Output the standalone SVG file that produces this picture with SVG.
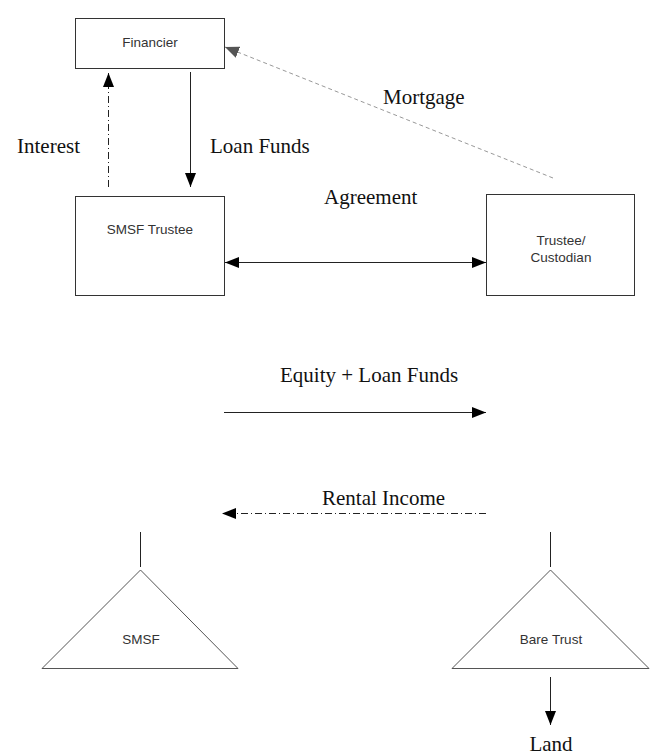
<svg xmlns="http://www.w3.org/2000/svg" width="650" height="756" viewBox="0 0 650 756">
  <style>
    .box { fill: #ffffff; stroke: #333333; stroke-width: 1; }
    .tri { fill: #ffffff; stroke: #555555; stroke-width: 1; }
    .node-label { font-family: "Liberation Sans", Arial, sans-serif; font-size: 13.5px; fill: #333333; text-anchor: middle; }
    .edge-label { font-family: "Liberation Serif", "Times New Roman", serif; font-size: 21px; fill: #111111; }
    .solid { stroke: #222222; stroke-width: 1; fill: none; }
    .dashdot { stroke: #222222; stroke-width: 1; fill: none; stroke-dasharray: 7 3 1 3; }
    .dashed { stroke: #999999; stroke-width: 1; fill: none; stroke-dasharray: 4 3; }
  </style>
  <defs>
    <marker id="arrow" viewBox="0 0 14 11" refX="14" refY="5.5" markerWidth="14" markerHeight="11" markerUnits="userSpaceOnUse" orient="auto">
      <path d="M0,0 L14,5.5 L0,11 Z" fill="#000000"/>
    </marker>
    <marker id="arrow-start" viewBox="0 0 14 11" refX="0" refY="5.5" markerWidth="14" markerHeight="11" markerUnits="userSpaceOnUse" orient="auto">
      <path d="M14,0 L0,5.5 L14,11 Z" fill="#000000"/>
    </marker>
    <marker id="arrow-gray" viewBox="0 0 14 12" refX="14" refY="6" markerWidth="14" markerHeight="12" markerUnits="userSpaceOnUse" orient="auto">
      <path d="M0,0 L14,6 L0,12 Z" fill="#555555"/>
    </marker>
  </defs>

  <rect width="650" height="756" fill="#ffffff"/>

  <g id="financier">
    <rect class="box" x="75.5" y="18.5" width="149" height="50"/>
    <text class="node-label" x="150" y="47">Financier</text>
  </g>

  <g id="smsf-trustee">
    <rect class="box" x="75.5" y="196.5" width="149" height="99"/>
    <text class="node-label" x="150" y="234">SMSF Trustee</text>
  </g>

  <g id="trustee-custodian">
    <rect class="box" x="486.5" y="194.5" width="148" height="101"/>
    <text class="node-label" x="561" y="245">Trustee/</text>
    <text class="node-label" x="561" y="262">Custodian</text>
  </g>

  <g id="smsf">
    <line class="solid" x1="140.5" y1="532" x2="140.5" y2="567"/>
    <polygon class="tri" points="140.5,570 42,668.5 238,668.5"/>
    <text class="node-label" x="141" y="644">SMSF</text>
  </g>

  <g id="bare-trust">
    <line class="solid" x1="550.5" y1="532" x2="550.5" y2="567"/>
    <polygon class="tri" points="550.5,570 452,668.5 649,668.5"/>
    <text class="node-label" x="551" y="644">Bare Trust</text>
  </g>

  <g id="land">
    <text class="edge-label" x="551" y="751" text-anchor="middle">Land</text>
  </g>

  <g id="connectors">
    <line class="dashdot" x1="108.5" y1="187" x2="108.5" y2="73" marker-end="url(#arrow)"/>
    <line class="solid" x1="190.5" y1="72" x2="190.5" y2="187" marker-end="url(#arrow)"/>
    <line class="dashed" x1="553" y1="178" x2="225" y2="47" marker-end="url(#arrow-gray)"/>
    <line class="solid" x1="225" y1="262.5" x2="486" y2="262.5" marker-start="url(#arrow-start)" marker-end="url(#arrow)"/>
    <line class="solid" x1="224" y1="412.5" x2="486" y2="412.5" marker-end="url(#arrow)"/>
    <line class="dashdot" x1="486" y1="513.5" x2="222" y2="513.5" marker-end="url(#arrow)"/>
    <line class="solid" x1="550.5" y1="677" x2="550.5" y2="725" marker-end="url(#arrow)"/>

    <text class="edge-label" x="17" y="153">Interest</text>
    <text class="edge-label" x="210" y="153">Loan Funds</text>
    <text class="edge-label" x="383" y="104">Mortgage</text>
    <text class="edge-label" x="324" y="204">Agreement</text>
    <text class="edge-label" x="280" y="382">Equity + Loan Funds</text>
    <text class="edge-label" x="322" y="505">Rental Income</text>
  </g>
</svg>
